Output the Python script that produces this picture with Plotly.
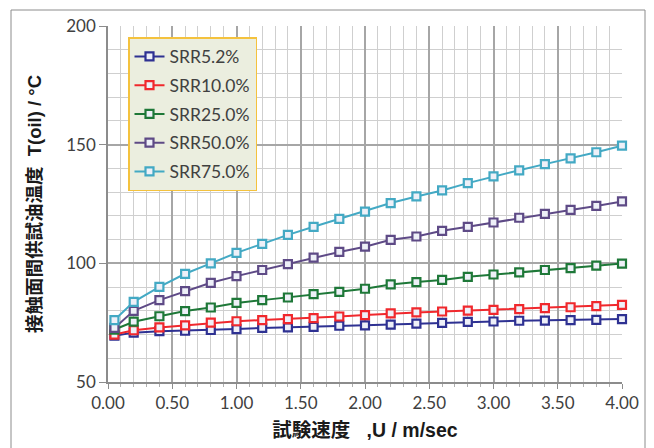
import plotly.graph_objects as go

speed = [0.05, 0.2, 0.4, 0.6, 0.8, 1.0, 1.2, 1.4, 1.6, 1.8, 2.0,
         2.2, 2.4, 2.6, 2.8, 3.0, 3.2, 3.4, 3.6, 3.8, 4.0]
srr5_2 = [69.5, 70.8, 71.4, 71.6, 71.9, 72.3, 72.8, 73.0, 73.2, 73.7, 73.9,
          74.2, 74.6, 74.9, 75.3, 75.5, 75.8, 75.9, 76.1, 76.2, 76.5]
srr10 = [70.0, 71.8, 73.0, 73.9, 75.0, 75.6, 76.1, 76.5, 76.9, 77.6, 78.2,
         78.9, 79.3, 79.7, 80.1, 80.4, 80.7, 81.1, 81.5, 82.0, 82.5]
srr25 = [72.1, 75.4, 77.7, 79.9, 81.4, 83.3, 84.5, 85.6, 87.0, 88.0, 89.3,
         91.1, 92.1, 93.0, 94.3, 95.3, 96.2, 97.2, 98.0, 99.0, 99.9]
srr50 = [72.8, 80.0, 84.5, 88.3, 91.8, 94.6, 97.2, 99.7, 102.4, 104.8, 107.0,
         109.9, 111.3, 113.7, 115.4, 117.2, 119.2, 120.8, 122.5, 124.2, 126.1]
srr75 = [76.1, 83.8, 90.1, 95.6, 100.0, 104.4, 108.2, 112.0, 115.4, 118.7, 121.8,
         125.4, 128.2, 130.7, 133.8, 136.6, 139.2, 141.8, 144.2, 146.8, 149.6]

series_names = ["SRR5.2%", "SRR10.0%", "SRR25.0%", "SRR50.0%", "SRR75.0%"]
series_values = [srr5_2, srr10, srr25, srr50, srr75]
colors = ["#2E3192", "#F0282D", "#1E7838", "#5E4A86", "#43A9C4"]

x_ticks = [0, 0.5, 1.0, 1.5, 2.0, 2.5, 3.0, 3.5, 4.0]
x_tick_labels = ["0.00", "0.50", "1.00", "1.50", "2.00", "2.50", "3.00", "3.50", "4.00"]
y_ticks = [50, 100, 150, 200]

fig = go.Figure()
for name, vals, c in zip(series_names, series_values, colors):
    fig.add_trace(go.Scatter(
        x=speed, y=vals, name=name, mode="lines+markers",
        legendgroup=name,
        line=dict(color=c, width=2),
        marker=dict(symbol="square", size=8, color="#EEF0F8",
                    line=dict(color=c, width=2.2)),
        cliponaxis=False,
    ))

# page body has an 8px margin, so the figure sits at (8, 8)
OFF = 8
W, H = 654 - OFF, 448 - OFF
L, R, T, B = 108 - OFF, 32, 26 - OFF, 66
pw, ph = W - L - R, H - T - B
# absolute page coords -> paper coords
px = lambda a: (a - 108) / pw
py = lambda a: (382 - a) / ph

title_font = dict(family="Liberation Sans, Noto Sans CJK JP", size=18.5, color="#1A1A1A")

fig.update_layout(
    width=W, height=H,
    margin=dict(l=L, r=R, t=T, b=B, autoexpand=False),
    paper_bgcolor="white", plot_bgcolor="white",
    font=dict(family="Lato, Open Sans, sans-serif", color="#404040", size=17),
    showlegend=True,
    legend=dict(
        x=px(128), y=py(37), xanchor="left", yanchor="top",
        bgcolor="#EBEEDF", bordercolor="#F4C23E", borderwidth=1.5,
        font=dict(family="Lato, Open Sans, sans-serif", size=17.5, color="#404040"),
        traceorder="grouped", tracegroupgap=3, itemwidth=30,
    ),
    xaxis=dict(
        range=[0, 4], tickvals=x_ticks, ticktext=x_tick_labels,
        automargin=False,
        showgrid=True, gridcolor="#A6A6A6", gridwidth=1.5,
        showline=True, linecolor="#8C8C8C", linewidth=1.5,
        ticks="outside", ticklen=5, tickcolor="#8C8C8C",
        minor=dict(dtick=0.1, showgrid=True, gridcolor="#CFCFCF", gridwidth=1,
                   ticks="outside", ticklen=3, tickcolor="#AFAFAF"),
        zeroline=False,
        title=dict(text="<b>試験速度&nbsp;&nbsp;&nbsp;,U / m/sec</b>", standoff=11,
                   font=dict(family="Liberation Sans, Noto Sans CJK JP", size=19.5, color="#1A1A1A")),
    ),
    yaxis=dict(
        range=[50, 200], tickvals=y_ticks,
        automargin=False,
        showgrid=True, gridcolor="#A6A6A6", gridwidth=1.5,
        showline=True, linecolor="#8C8C8C", linewidth=1.5,
        ticks="outside", ticklen=7, tickcolor="#8C8C8C",
        minor=dict(dtick=10, showgrid=True, gridcolor="#CFCFCF", gridwidth=1),
        zeroline=False,
        title=dict(text="<b>接触面間供試油温度&nbsp;&nbsp;T(oil) / °C</b>", standoff=20, font=title_font),
    ),
    shapes=[dict(
        type="rect", xref="paper", yref="paper",
        x0=px(11), x1=px(645), y0=py(470), y1=py(10),
        line=dict(color="#8C8C8C", width=1), fillcolor="rgba(0,0,0,0)", layer="below",
    )],
)

fig.write_html("out.html")
